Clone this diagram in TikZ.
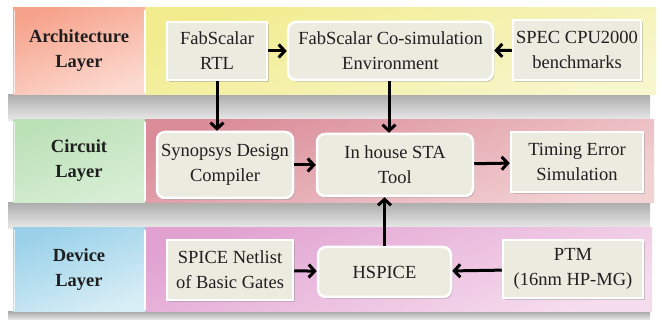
\documentclass[tikz,border=0pt]{standalone}
\usepackage{fontspec}
\setmainfont{Liberation Serif}
\usetikzlibrary{arrows.meta,shadows}
\definecolor{nodefill}{HTML}{ECEBDF}
\definecolor{archA}{HTML}{F6A38C}\definecolor{archB}{HTML}{FCDAD0}
\definecolor{yelA}{HTML}{F2EC8E}\definecolor{yelB}{HTML}{F8F6CC}
\definecolor{grnA}{HTML}{BBE1B7}\definecolor{grnB}{HTML}{D8EED5}
\definecolor{redA}{HTML}{DA8D99}\definecolor{redB}{HTML}{F3D2D4}
\definecolor{bluA}{HTML}{9AD1E9}\definecolor{bluB}{HTML}{D8EEF6}
\definecolor{pnkA}{HTML}{E1A2D1}\definecolor{pnkB}{HTML}{F6DDEE}
\tikzset{
  box/.style={fill=nodefill,draw=white,line width=2.5pt,align=center,
    font=\fontsize{18.5}{25}\selectfont,inner sep=0pt,text=black!88,
    drop shadow={opacity=0.35,shadow xshift=1.5pt,shadow yshift=-2pt}},
  sqbox/.style={box},
  rbox/.style={box,rounded corners=8pt},
  lbl/.style={align=center,font=\fontsize{18.5}{25}\selectfont\bfseries,text=black!88},
  arr/.style={line width=3pt,-{Straight Barb[length=6pt,width=13pt,line width=3pt]}},
  band/.style 2 args={top color=#1,bottom color=#2,shading angle=20},
}
\begin{document}
\begin{tikzpicture}[x=1pt,y=-1pt]
\useasboundingbox (0,0) rectangle (662,320);
\fill[white] (0,0) rectangle (662,320);
% band shadows
\foreach \ya/\yb in {95/121,203/229,312/320}{
  \shade[top color=black!32,bottom color=black!8] (8,\ya) rectangle (650,\yb);
}
% top band
\shade[band={archA}{archB}] (13,8) rectangle (145,95);
\shade[band={yelA}{yelB}] (145,8) rectangle (656,95);
% middle band
\shade[band={grnA}{grnB}] (13,120) rectangle (145,203);
\shade[band={redA}{redB}] (145,120) rectangle (654,203);
% bottom band
\shade[band={bluA}{bluB}] (13,228) rectangle (145,312);
\shade[band={pnkA}{pnkB}] (145,228) rectangle (652,312);
% separators
\foreach \ya/\yb in {8/95,120/203,228/312}{
  \draw[white,line width=1.2pt] (145,\ya+2) -- (145,\yb-2);
  \draw[white,opacity=0.7,line width=0.8pt] (14,\ya+2) -- (14,\yb-2);
}
% labels
\node[lbl] (arch) at (79,51) {Architecture\\Layer};
\node[lbl] (circ) at (79,161) {Circuit\\Layer};
\node[lbl] (dev) at (79,270) {Device\\Layer};
% nodes
\node[sqbox,minimum width=100pt,minimum height=58pt] (rtl) at (217,51) {FabScalar\\RTL};
\node[rbox,minimum width=205pt,minimum height=58pt] (cosim) at (390.5,51) {FabScalar Co-simulation\\Environment};
\node[sqbox,minimum width=128pt,minimum height=60pt] (spec) at (577,50) {SPEC CPU2000\\benchmarks};
\node[rbox,minimum width=136pt,minimum height=66pt] (syn) at (225,165) {Synopsys Design\\Compiler};
\node[rbox,minimum width=156pt,minimum height=62pt] (sta) at (395,165) {In house STA\\Tool};
\node[sqbox,minimum width=132pt,minimum height=60pt] (tim) at (577,162) {Timing Error\\Simulation};
\node[sqbox,minimum width=126pt,minimum height=60pt] (spice) at (230,270) {SPICE Netlist\\of Basic Gates};
\node[rbox,minimum width=133pt,minimum height=50pt] (hspice) at (384.5,272) {HSPICE};
\node[sqbox,minimum width=140pt,minimum height=58pt] (ptm) at (573,269) {PTM\\(16nm HP-MG)};
% arrows
\draw[arr] (rtl) -- (cosim);
\draw[arr] (spec) -- (cosim);
\draw[arr] (rtl.south) -- (rtl.south |- syn.north);
\draw[arr] ([xshift=-1.5pt]cosim.south) -- ([xshift=-1.5pt]cosim.south |- sta.north);
\draw[arr] (syn) -- (sta);
\draw[arr] (sta) -- (tim);
\draw[arr] (spice) -- (hspice);
\draw[arr] (ptm) -- (hspice);
\draw[arr] (hspice.north) -- (hspice.north |- sta.south);
\end{tikzpicture}
\end{document}
